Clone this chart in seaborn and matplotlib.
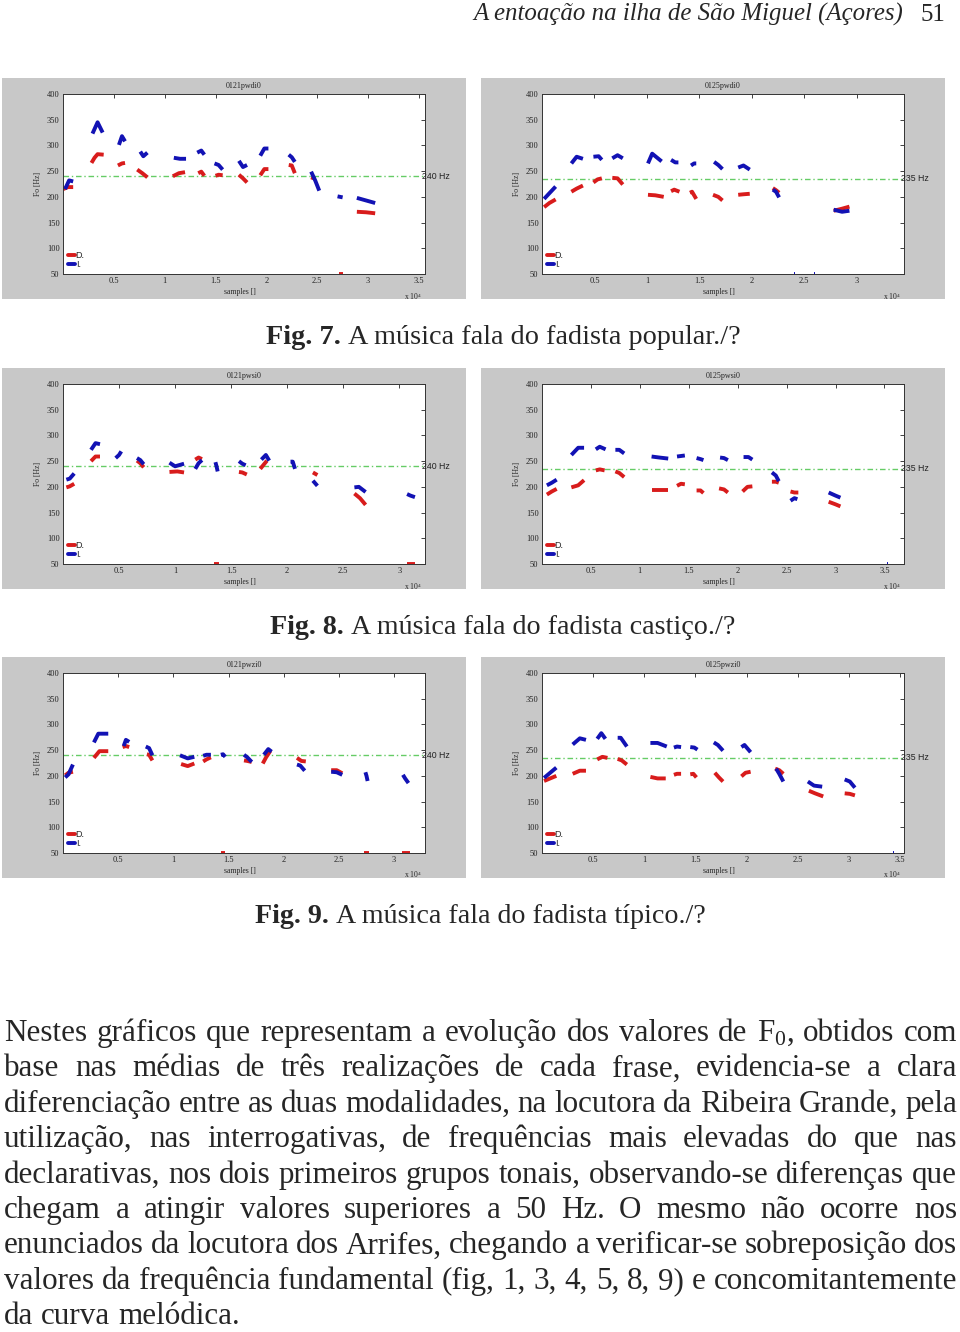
import numpy as np
import pandas as pd
import matplotlib
matplotlib.use("Agg")
import matplotlib.pyplot as plt
import seaborn as sns
from matplotlib.lines import Line2D
from matplotlib.patches import Rectangle

sns.set_style("white")
plt.rcParams["font.family"] = ["Liberation Serif", "DejaVu Serif"]
plt.rcParams["mathtext.fontset"] = "custom"
plt.rcParams["mathtext.rm"] = "Liberation Serif"
plt.rcParams["mathtext.it"] = "Liberation Serif:italic"
plt.rcParams["mathtext.bf"] = "Liberation Serif:bold"

# ---------------- data (x in samples x 10^4, y = F0 in Hz) ----------------
TITLES = ["0121pwdi0", "0125pwdi0", "0121pwsi0", "0125pwsi0", "0121pwzi0", "0125pwzi0"]
REF_HZ = [240, 235, 240, 235, 240, 235]
XMAX = [3.56, 3.45, 3.23, 3.70, 3.28, 3.54]
XTICKS = [[0.5, 1, 1.5, 2, 2.5, 3, 3.5], [0.5, 1, 1.5, 2, 2.5, 3],
          [0.5, 1, 1.5, 2, 2.5, 3], [0.5, 1, 1.5, 2, 2.5, 3, 3.5],
          [0.5, 1, 1.5, 2, 2.5, 3], [0.5, 1, 1.5, 2, 2.5, 3, 3.5]]
YTICKS = [50, 100, 150, 200, 250, 300, 350, 400]
LEGEND_LABELS = ["D.", "I."]
CAPTIONS = [("Fig. 7.", "A música fala do fadista popular./?"),
            ("Fig. 8.", "A música fala do fadista castiço./?"),
            ("Fig. 9.", "A música fala do fadista típico./?")]

DI0121_D = [[(0.00, 215), (0.05, 219), (0.10, 219)],
            [(0.28, 266), (0.31, 276), (0.34, 283), (0.40, 282)],
            [(0.54, 261), (0.58, 265), (0.61, 266)],
            [(0.73, 253), (0.78, 246), (0.83, 238)],
            [(1.08, 240), (1.14, 246), (1.20, 248)],
            [(1.33, 246), (1.36, 249), (1.39, 241)],
            [(1.50, 241), (1.53, 243), (1.57, 242)],
            [(1.73, 243), (1.77, 236), (1.81, 228)],
            [(1.94, 242), (1.98, 254), (2.02, 254)],
            [(2.22, 262), (2.25, 261), (2.28, 246)],
            [(2.44, 238), (2.48, 235)],
            [(2.71, 50), (2.75, 50)],
            [(2.89, 171), (2.98, 170), (3.07, 168)]]
DI0121_I = [[(0.02, 215), (0.06, 232), (0.10, 230)],
            [(0.29, 323), (0.34, 345), (0.39, 325)],
            [(0.55, 301), (0.58, 318), (0.61, 308)],
            [(0.76, 288), (0.79, 279), (0.83, 286)],
            [(1.09, 276), (1.15, 274), (1.21, 274)],
            [(1.32, 286), (1.36, 290), (1.39, 282)],
            [(1.49, 265), (1.53, 262), (1.57, 253)],
            [(1.73, 270), (1.77, 258), (1.81, 262)],
            [(1.94, 280), (1.98, 294), (2.02, 294)],
            [(2.22, 282), (2.25, 277), (2.28, 268)],
            [(2.44, 249), (2.48, 232), (2.52, 212)],
            [(2.70, 201), (2.75, 199)],
            [(2.89, 198), (2.98, 193), (3.07, 188)]]

DI0125_D = [[(0.02, 180), (0.07, 188), (0.13, 195)],
            [(0.28, 210), (0.33, 216), (0.39, 222)],
            [(0.49, 228), (0.53, 234), (0.57, 236)],
            [(0.67, 237), (0.72, 236), (0.77, 224)],
            [(1.01, 204), (1.08, 203), (1.16, 200)],
            [(1.23, 211), (1.26, 214), (1.31, 210)],
            [(1.41, 208), (1.43, 210), (1.47, 196)],
            [(1.63, 204), (1.68, 200), (1.72, 193)],
            [(1.87, 204), (1.92, 205), (1.98, 206)],
            [(2.20, 217), (2.23, 213), (2.26, 208)],
            [(2.78, 173), (2.86, 177), (2.93, 181)]]
DI0125_I = [[(0.02, 196), (0.07, 207), (0.13, 220)],
            [(0.28, 265), (0.33, 278), (0.39, 274)],
            [(0.49, 278), (0.54, 279), (0.57, 272)],
            [(0.67, 275), (0.72, 281), (0.77, 275)],
            [(1.01, 265), (1.05, 284), (1.14, 269)],
            [(1.23, 272), (1.27, 267), (1.30, 267)],
            [(1.42, 261), (1.45, 265), (1.47, 265)],
            [(1.64, 268), (1.68, 262), (1.72, 254)],
            [(1.87, 257), (1.92, 261), (1.98, 253)],
            [(2.20, 214), (2.23, 210), (2.26, 199)],
            [(2.405, 50), (2.415, 50)],
            [(2.595, 50), (2.605, 50)],
            [(2.78, 175), (2.86, 171), (2.93, 173)]]

SI0121_D = [[(0.03, 199), (0.06, 201), (0.10, 206)],
            [(0.25, 250), (0.29, 259), (0.33, 259)],
            [(0.66, 251), (0.69, 246), (0.72, 238)],
            [(0.95, 229), (1.02, 230), (1.08, 228)],
            [(1.18, 253), (1.21, 257), (1.24, 254)],
            [(1.35, 50), (1.39, 50)],
            [(1.57, 229), (1.60, 228), (1.64, 224)],
            [(1.76, 235), (1.79, 243), (1.82, 251)],
            [(2.23, 228), (2.27, 223)],
            [(2.60, 187), (2.65, 178), (2.70, 165)],
            [(3.07, 50), (3.14, 50)]]
SI0121_I = [[(0.03, 214), (0.06, 216), (0.10, 226)],
            [(0.25, 272), (0.29, 285), (0.33, 283)],
            [(0.47, 256), (0.50, 262), (0.52, 269)],
            [(0.66, 256), (0.69, 252), (0.72, 244)],
            [(0.95, 247), (1.00, 240), (1.08, 245)],
            [(1.18, 235), (1.21, 246), (1.24, 252)],
            [(1.36, 248), (1.37, 240), (1.38, 230)],
            [(1.57, 250), (1.60, 245), (1.63, 242)],
            [(1.77, 253), (1.81, 262), (1.84, 251)],
            [(2.03, 249), (2.05, 249), (2.07, 235)],
            [(2.23, 212), (2.25, 207), (2.27, 202)],
            [(2.60, 199), (2.64, 200), (2.70, 190)],
            [(3.07, 186), (3.10, 183), (3.14, 180)]]

SI0125_D = [[(0.05, 185), (0.10, 191), (0.15, 196)],
            [(0.30, 199), (0.37, 203), (0.43, 213)],
            [(0.55, 232), (0.59, 234), (0.64, 232)],
            [(0.75, 230), (0.79, 227), (0.84, 219)],
            [(1.12, 194), (1.20, 194), (1.29, 194)],
            [(1.38, 202), (1.42, 206), (1.46, 205)],
            [(1.58, 193), (1.62, 193), (1.65, 188)],
            [(1.81, 197), (1.86, 195), (1.90, 189)],
            [(2.05, 191), (2.10, 200), (2.15, 201)],
            [(2.35, 210), (2.39, 210), (2.42, 208)],
            [(2.54, 191), (2.58, 189), (2.62, 189)],
            [(2.93, 171), (3.00, 166), (3.05, 162)]]
SI0125_I = [[(0.05, 203), (0.10, 208), (0.15, 214)],
            [(0.30, 262), (0.37, 276), (0.43, 276)],
            [(0.55, 273), (0.59, 278), (0.65, 273)],
            [(0.75, 272), (0.79, 272), (0.84, 265)],
            [(1.12, 259), (1.20, 257), (1.29, 255)],
            [(1.38, 259), (1.42, 260), (1.46, 261)],
            [(1.58, 256), (1.62, 254), (1.65, 252)],
            [(1.82, 257), (1.86, 256), (1.90, 252)],
            [(2.06, 258), (2.11, 258), (2.15, 253)],
            [(2.35, 228), (2.39, 222), (2.42, 211)],
            [(2.54, 173), (2.58, 178), (2.61, 176)],
            [(2.93, 189), (3.00, 183), (3.05, 179)],
            [(3.525, 50), (3.535, 50)]]

ZI0121_D = [[(0.02, 201), (0.05, 206), (0.09, 208)],
            [(0.28, 235), (0.33, 248), (0.41, 248)],
            [(0.54, 256), (0.57, 258), (0.60, 256)],
            [(0.76, 242), (0.78, 241), (0.81, 230)],
            [(1.07, 223), (1.13, 219), (1.19, 224)],
            [(1.27, 228), (1.30, 232), (1.34, 236)],
            [(1.43, 50), (1.47, 50)],
            [(1.64, 230), (1.67, 229), (1.71, 227)],
            [(1.81, 224), (1.84, 236), (1.88, 249)],
            [(2.12, 235), (2.16, 229), (2.20, 228)],
            [(2.43, 211), (2.48, 211), (2.53, 205)],
            [(2.73, 50), (2.77, 50)],
            [(3.07, 50), (3.14, 50)]]
ZI0121_I = [[(0.02, 197), (0.05, 203), (0.09, 222)],
            [(0.28, 265), (0.32, 282), (0.41, 282)],
            [(0.55, 258), (0.57, 270), (0.60, 266)],
            [(0.75, 257), (0.78, 254), (0.81, 240)],
            [(1.06, 240), (1.13, 234), (1.19, 237)],
            [(1.27, 239), (1.30, 241), (1.34, 241)],
            [(1.43, 241), (1.45, 242), (1.47, 237)],
            [(1.64, 241), (1.67, 236), (1.71, 227)],
            [(1.82, 241), (1.86, 252), (1.89, 247)],
            [(2.12, 222), (2.15, 220), (2.19, 210)],
            [(2.43, 208), (2.48, 207), (2.53, 202)],
            [(2.74, 207), (2.75, 200), (2.76, 190)],
            [(3.08, 202), (3.10, 195), (3.13, 186)]]

ZI0125_D = [[(0.02, 190), (0.08, 195), (0.14, 200)],
            [(0.30, 204), (0.37, 210), (0.43, 210)],
            [(0.54, 232), (0.59, 237), (0.64, 235)],
            [(0.74, 233), (0.78, 230), (0.83, 222)],
            [(1.06, 198), (1.13, 195), (1.21, 195)],
            [(1.29, 202), (1.32, 204), (1.36, 204)],
            [(1.45, 203), (1.48, 204), (1.51, 197)],
            [(1.69, 206), (1.73, 197), (1.77, 189)],
            [(1.95, 199), (1.99, 206), (2.04, 208)],
            [(2.28, 214), (2.32, 211), (2.36, 204)],
            [(2.61, 171), (2.67, 166), (2.75, 160)],
            [(2.96, 166), (3.01, 165), (3.06, 162)]]
ZI0125_I = [[(0.02, 196), (0.08, 206), (0.14, 216)],
            [(0.30, 261), (0.37, 273), (0.43, 270)],
            [(0.54, 272), (0.58, 283), (0.62, 272)],
            [(0.74, 274), (0.77, 274), (0.83, 257)],
            [(1.06, 264), (1.13, 264), (1.22, 257)],
            [(1.29, 255), (1.32, 257), (1.36, 256)],
            [(1.45, 256), (1.49, 255), (1.52, 251)],
            [(1.68, 265), (1.72, 260), (1.77, 249)],
            [(1.95, 256), (1.98, 260), (2.04, 246)],
            [(2.29, 214), (2.32, 204), (2.36, 189)],
            [(2.60, 189), (2.66, 181), (2.74, 179)],
            [(2.96, 193), (3.01, 189), (3.06, 177)],
            [(3.435, 50), (3.445, 50)]]

SERIES_D = [DI0121_D, DI0125_D, SI0121_D, SI0125_D, ZI0121_D, ZI0125_D]
SERIES_I = [DI0121_I, DI0125_I, SI0121_I, SI0125_I, ZI0121_I, ZI0125_I]

HEADER = "A entoação na ilha de São Miguel (Açores)"
PAGE = "51"
PARAGRAPH = [
    "Nestes gráficos que representam a evolução dos valores de F$_0$, obtidos com",
    "base nas médias de três realizações de cada frase, evidencia-se a clara",
    "diferenciação entre as duas modalidades, na locutora da Ribeira Grande, pela",
    "utilização, nas interrogativas, de frequências mais elevadas do que nas",
    "declarativas, nos dois primeiros grupos tonais, observando-se diferenças que",
    "chegam a atingir valores superiores a 50 Hz. O mesmo não ocorre nos",
    "enunciados da locutora dos Arrifes, chegando a verificar-se sobreposição dos",
    "valores da frequência fundamental (fig, 1, 3, 4, 5, 8, 9) e concomitantemente",
    "da curva melódica.",
]

# ---------------- styles / layout ----------------
RED = "#d81c1c"
BLUE = "#1212b4"
GREEN = "#66cc66"
GRAY = "#c8c8c8"
W, H = 960, 1332

fig = plt.figure(figsize=(W / 100, H / 100), dpi=100)
fig.patch.set_facecolor("white")
renderer = fig.canvas.get_renderer()


def fx(x):
    return x / W


def fy(y):
    return 1 - y / H


AX_LEFT = [63, 542]
AX_WIDTH = 362
AX_TOP = [94, 384, 673]
AX_HEIGHT = 180
GRAY_LEFT = [2, 481]
GRAY_WIDTH = 464
GRAY_TOP = [78, 368, 657]
GRAY_HEIGHT = 221


def segs_to_df(segs, label):
    rows = []
    for k, seg in enumerate(segs):
        for (x, y) in seg:
            rows.append({"seg": f"{label}{k}", "x": x, "y": y, "serie": label})
    return rows


for i in range(6):
    r, c = divmod(i, 2)
    gx, gy = GRAY_LEFT[c], GRAY_TOP[r]
    fig.add_artist(Rectangle((fx(gx), fy(gy + GRAY_HEIGHT)), GRAY_WIDTH / W, GRAY_HEIGHT / H,
                             transform=fig.transFigure, facecolor=GRAY, edgecolor="none", zorder=-5))
    L, T = AX_LEFT[c], AX_TOP[r]
    ax = fig.add_axes([fx(L), fy(T + AX_HEIGHT), AX_WIDTH / W, AX_HEIGHT / H])
    ax.set_facecolor("white")

    df = pd.DataFrame(segs_to_df(SERIES_D[i], "D.") + segs_to_df(SERIES_I[i], "I."))
    sns.lineplot(data=df, x="x", y="y", hue="serie", units="seg", estimator=None, sort=False,
                 palette={"D.": RED, "I.": BLUE}, lw=2.8, legend=False, ax=ax,
                 dashes=False, linestyle="-", solid_capstyle="butt", solid_joinstyle="round")
    ax.axhline(REF_HZ[i], color=GREEN, lw=1.0, ls=(0, (4, 2, 1, 2)), zorder=1)

    ax.set_xlim(0, XMAX[i])
    ax.set_ylim(50, 400)
    ax.set_xticks(XTICKS[i])
    ax.set_xticklabels([f"{t:g}" for t in XTICKS[i]])
    ax.set_yticks(YTICKS)
    ax.set_yticklabels([str(t) for t in YTICKS])
    ax.tick_params(direction="in", length=3, width=0.6, top=True, right=True,
                   labelsize=6, pad=2.5, colors="#222222")
    for sp in ax.spines.values():
        sp.set_linewidth(0.7)
        sp.set_color("#333333")
        sp.set_visible(True)

    ax.set_title(TITLES[i], fontsize=5.8, pad=4)
    ax.set_xlabel("samples []", fontsize=5.5, va="center")
    ax.xaxis.set_label_coords(0.49, -18 / AX_HEIGHT)
    ax.set_ylabel("Fo [Hz]", fontsize=5.5, va="center")
    ax.yaxis.set_label_coords(-25 / AX_WIDTH, 0.5)
    ax.text(1 - 12 / AX_WIDTH, -22 / AX_HEIGHT, r"x 10$^4$", transform=ax.transAxes,
            fontsize=5.5, ha="center", va="center")
    ax.text(1 - 3 / AX_WIDTH, REF_HZ[i], f"{REF_HZ[i]} Hz", transform=ax.get_yaxis_transform(),
            fontsize=6.3, family="Liberation Sans", ha="left", va="center", clip_on=False,
            color="#222222")

    handles = [Line2D([0], [0], color=RED, lw=2.8), Line2D([0], [0], color=BLUE, lw=2.8)]
    ax.legend(handles, LEGEND_LABELS, loc="lower left", frameon=False, handlelength=0.8,
              handletextpad=0.1, labelspacing=0.05, borderaxespad=0.2, borderpad=0.3,
              prop={"family": "Liberation Sans", "size": 6.5})


def width_of(t):
    return t.get_window_extent(renderer).width


# header
hdr = fig.text(0, fy(21), HEADER, fontsize=16, style="italic", ha="left", va="baseline")
s = 430 / width_of(hdr)
hdr.set_fontsize(16 * s)
hdr.set_x(fx(473))
fig.text(fx(945), fy(21), PAGE, fontsize=16 * s, ha="right", va="baseline")

# captions
CAP_LEFT = [266, 270, 255]
CAP_RIGHT = [740, 735, 705]
CAP_BASE = [344, 634, 923]
base = 18
for k, (b, rest) in enumerate(CAPTIONS):
    tb = fig.text(0, fy(CAP_BASE[k]), b, fontsize=base, weight="bold", ha="left", va="baseline")
    tr = fig.text(0, fy(CAP_BASE[k]), rest, fontsize=base, ha="left", va="baseline")
    sp = fig.text(0, 0, "n n", fontsize=base)
    sp2 = fig.text(0, 0, "nn", fontsize=base)
    gap = width_of(sp) - width_of(sp2)
    total = width_of(tb) + gap + width_of(tr)
    sc = (CAP_RIGHT[k] - CAP_LEFT[k]) / total
    sp.remove(); sp2.remove()
    tb.set_fontsize(base * sc); tr.set_fontsize(base * sc)
    tb.set_x(fx(CAP_LEFT[k]))
    tr.set_x(fx(CAP_LEFT[k] + (width_of(tb) + gap * sc)))

# paragraph (justified)
last = fig.text(0, 0, PARAGRAPH[-1], fontsize=20)
psize = 20 * 236 / width_of(last)
last.remove()
spa = fig.text(0, 0, "n n", fontsize=psize)
spb = fig.text(0, 0, "nn", fontsize=psize)
space_w = width_of(spa) - width_of(spb)
spa.remove(); spb.remove()
X0, X1 = 4, 957
for li, line in enumerate(PARAGRAPH):
    yb = 1041 + li * 35.4
    words = line.split(" ")
    texts = [fig.text(0, fy(yb), w, fontsize=psize, ha="left", va="baseline") for w in words]
    widths = [width_of(t) for t in texts]
    if li < len(PARAGRAPH) - 1:
        gap = (X1 - X0 - sum(widths)) / (len(words) - 1)
    else:
        gap = space_w
    x = X0
    for t, w in zip(texts, widths):
        t.set_x(fx(x))
        x += w + gap

fig.savefig("out.png", dpi=100, facecolor="white")
